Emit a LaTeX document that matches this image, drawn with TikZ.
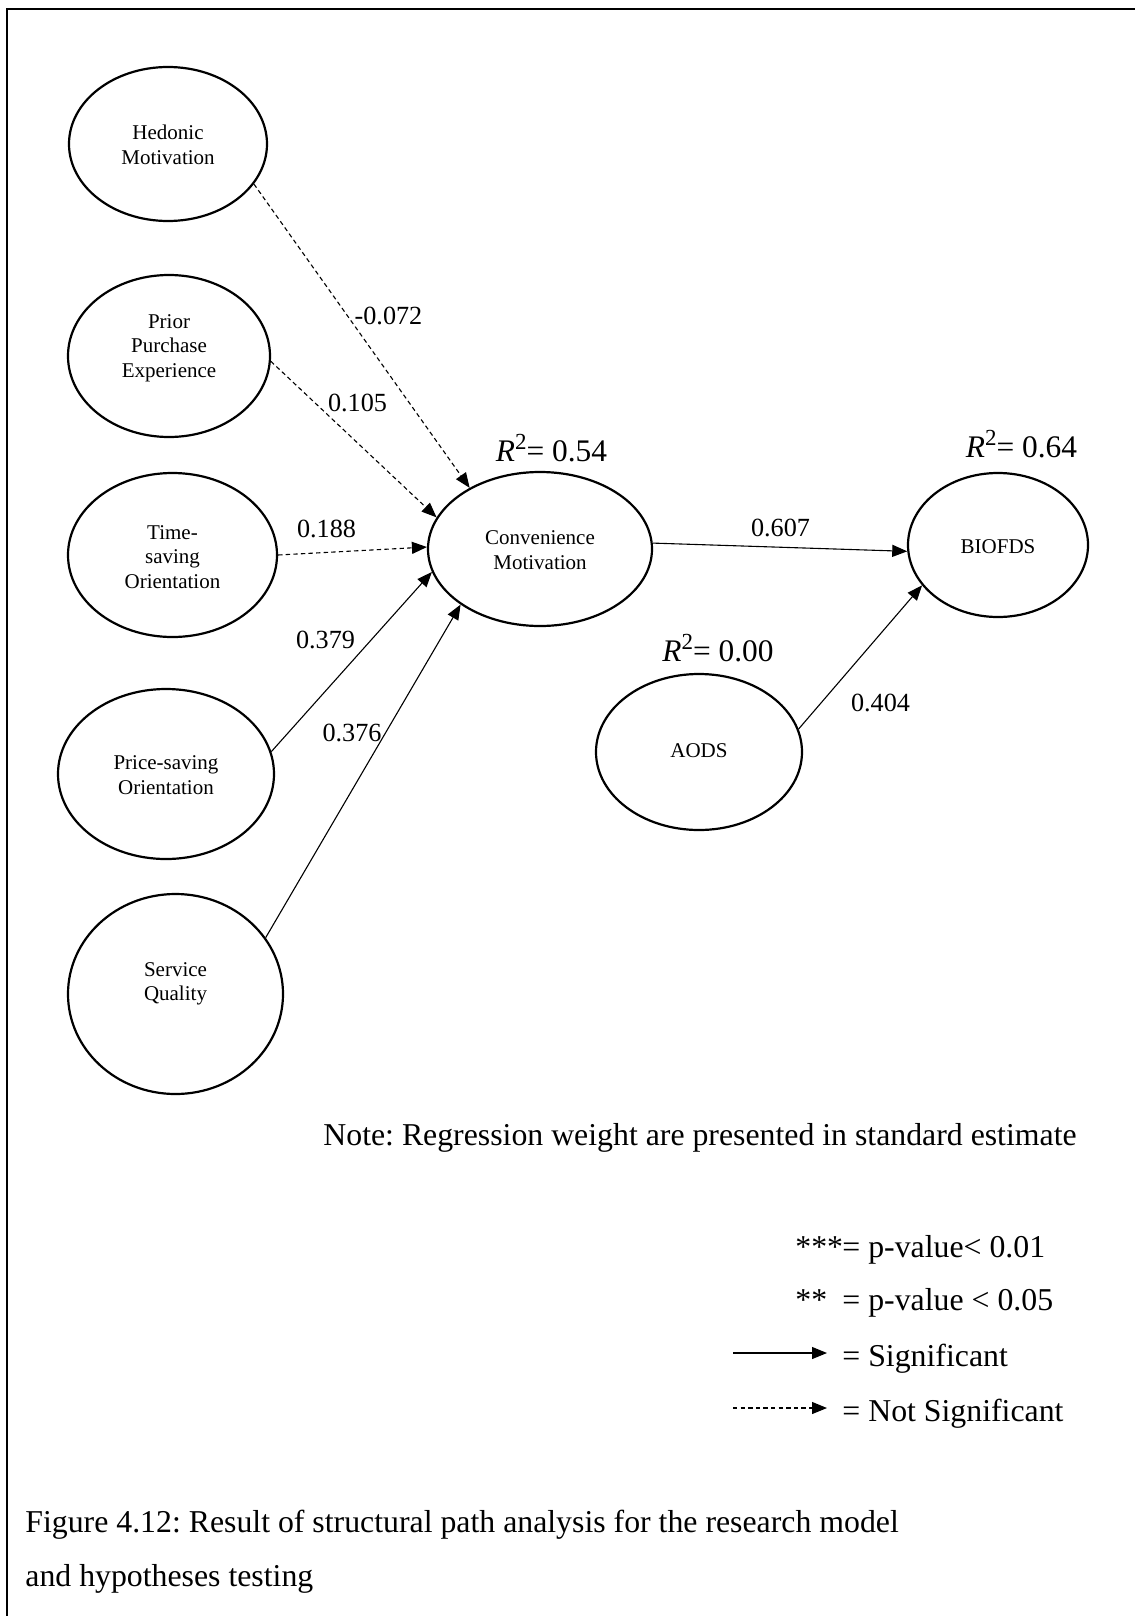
\documentclass[tikz,border=0pt]{standalone}
\usepackage{fontspec}
\setmainfont{Liberation Serif}
\usetikzlibrary{arrows.meta,shapes.geometric}
\frenchspacing
\newcommand{\rsqsym}{\textit{R}\raisebox{0.36em}{\fontsize{11.5}{12}\selectfont 2}}
\begin{document}
\begin{tikzpicture}[x=0.5pt,y=-0.5pt,
  latent/.style={ellipse, draw, line width=1.1pt, inner sep=0pt},
  nodetext/.style={align=center, font=\fontsize{10.5}{12.2}\selectfont, inner sep=0pt},
  coef/.style={font=\fontsize{13.1}{15}\selectfont, inner sep=0pt},
  rsq/.style={font=\fontsize{15.7}{18}\selectfont, inner sep=0pt, anchor=base},
  body/.style={font=\fontsize{15.9}{19}\selectfont, inner sep=0pt, anchor=base west},
  effect/.style={line width=0.55pt, -{Triangle[length=7.5pt,width=6pt]}},
  weak/.style={effect, dash pattern=on 2.2pt off 1.6pt},
]
\useasboundingbox (0,0) rectangle (1135,1616);

% open frame: left and top rules
\draw[line width=1.25pt] (7,1616) -- (7,9) -- (1135,9);

% latent constructs
\node[latent, minimum width=99pt,    minimum height=77pt]  (hed) at (168,144) {};
\node[latent, minimum width=101pt,   minimum height=81pt]  (pur) at (169,356) {};
\node[latent, minimum width=104.5pt, minimum height=82pt]  (tim) at (172.5,555) {};
\node[latent, minimum width=108pt,   minimum height=85pt]  (prc) at (166,774) {};
\node[latent, minimum width=107.5pt, minimum height=100pt] (ser) at (175.5,994) {};
\node[latent, minimum width=112pt,   minimum height=77pt]  (con) at (540,549) {};
\node[latent, minimum width=90pt,    minimum height=72pt]  (bio) at (998,545) {};
\node[latent, minimum width=103pt,   minimum height=78pt]  (aod) at (699,752) {};

\node[nodetext] (hedT) at (168,145)   {Hedonic\\Motivation};
\node[nodetext] (purT) at (169,348)   {Prior\\Purchase\\Experience};
\node[nodetext] (timT) at (172.5,557) {Time-\\saving\\Orientation};
\node[nodetext] (prcT) at (166,775)   {Price-saving\\Orientation};
\node[nodetext] (serT) at (175.5,984) {Service\\Quality};
\node[nodetext] (conT) at (540,550)   {Convenience\\Motivation};
\node[nodetext] (bioT) at (998,547)   {BIOFDS};
\node[nodetext] (aodT) at (699,751)   {AODS};

% structural paths
\draw[weak]   (hed.-25.7) -- (con.139.9);
\draw[weak]   (pur.-3.4)  -- (con.163.8);
\draw[weak]   (tim.-0.5)  -- (con.179.5);
\draw[effect] (prc.12.9)  -- (con.192.3);
\draw[effect] (ser.32.1)  -- (con.215);
\draw[effect] (con.3.6)   -- (bio.184.4);
\draw[effect] (aod.13.5)  -- (bio.208);

% path coefficients
\node[coef] (cHed) at (388.5,316) {-0.072};
\node[coef] (cPur) at (357.5,403) {0.105};
\node[coef] (cTim) at (326.5,529) {0.188};
\node[coef] (cPrc) at (325.5,640) {0.379};
\node[coef] (cSer) at (352,733)   {0.376};
\node[coef] (cCon) at (780.5,528) {0.607};
\node[coef] (cAod) at (880.5,703) {0.404};

% explained variance
\node[rsq] (rCon) at (551.5,461) {\rsqsym= 0.54};
\node[rsq] (rAod) at (718,661)   {\rsqsym= 0.00};
\node[rsq] (rBio) at (1021.5,457) {\rsqsym= 0.64};

% note and key
\node[body] (note) at (323,1145) {Note: Regression weight are presented in standard estimate};
\node[body] (st3) at (795,1257) {***};
\node[body] (eq1) at (842,1257) {= p-value< 0.01};
\node[body] (st2) at (795,1310) {**};
\node[body] (eq2) at (842,1310) {= p-value < 0.05};
\coordinate (k1a) at (733,1353);
\coordinate (k1b) at (827,1353);
\draw[effect] (k1a) -- (k1b);
\node[body] (sig) at (842,1366) {= Significant};
\coordinate (k2a) at (733,1408);
\coordinate (k2b) at (827,1408);
\draw[weak] (k2a) -- (k2b);
\node[body] (nsig) at (842,1421) {= Not Significant};

% caption
\node[body] (cap1) at (25,1532) {Figure 4.12: Result of structural path analysis for the research model};
\node[body] (cap2) at (25,1586) {and hypotheses testing};
\end{tikzpicture}
\end{document}
